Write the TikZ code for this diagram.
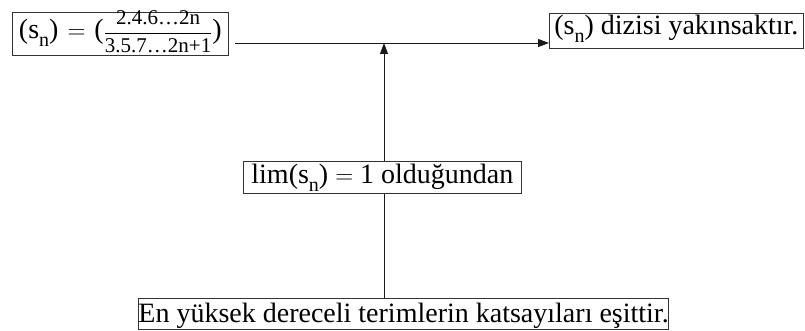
\documentclass[tikz,border=0pt]{standalone}
\usepackage{amsmath}
\usepackage{fontspec}
\setmainfont{Liberation Serif}
\usetikzlibrary{arrows.meta}
\tikzset{
  box/.style={draw=black!80, line width=0.8pt, inner sep=0pt, anchor=north west, font=\fontsize{28}{30}\selectfont},
  conn/.style={line width=0.8pt, draw=black!90},
  arr/.style={conn, -{Triangle[length=11pt,width=8pt]}}
}
\newcommand{\subn}{\raisebox{-8.5pt}{\fontsize{20}{20}\selectfont n}}
\newcommand{\myfrac}{{\fontsize{21}{21}\selectfont$\dfrac{\text{2.4.6…2n}}{\text{3.5.7…2n+1}}$}}
\begin{document}
\begin{tikzpicture}[x=1pt,y=-1pt]
\useasboundingbox (0,0) rectangle (805,331);
\node[box, minimum width=216pt, text height=26pt, text depth=17pt] (a) at (12,12)
  {(s\subn)\hspace{9pt}$=$\hspace{9pt}(\myfrac)};
\node[box, minimum width=254pt, text height=21pt, text depth=14pt] (b) at (549,13)
  {(s\subn) dizisi yakınsaktır.};
\node[box, minimum width=278pt, text height=22pt, text depth=10pt] (c) at (243,161)
  {lim(s\subn) $=$ 1 olduğundan};
\node[box, minimum width=530pt, text height=24pt, text depth=7pt] (d) at (138,298)
  {En yüksek dereceli terimlerin katsayıları eşittir.};
\coordinate (h0) at (235,43);
\coordinate (v0) at (384,43);
\draw[arr] (h0) -- (h0 -| b.west);
\draw[arr] (c.north -| v0) -- (v0);
\draw[conn] (d.north -| v0) -- (c.south -| v0);
\end{tikzpicture}
\end{document}
